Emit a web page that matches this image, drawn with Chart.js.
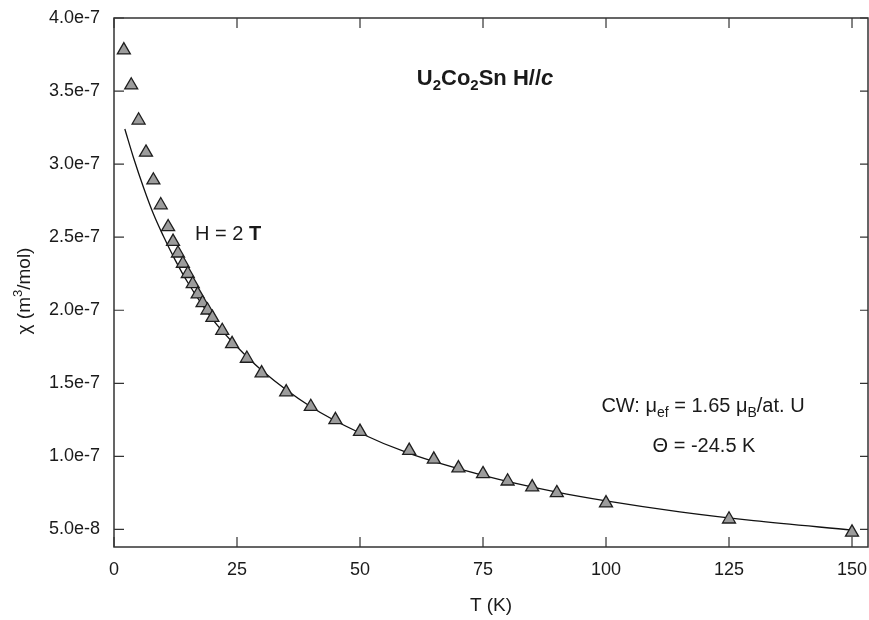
<!DOCTYPE html>
<html>
<head>
<meta charset="utf-8">
<script src="https://cdn.jsdelivr.net/npm/chart.js@4.4.1/dist/chart.umd.min.js"></script>
<style>
  html, body { margin: 0; padding: 0; background: #fff; overflow: hidden; }
  #wrap { width: 869px; height: 620px; }
</style>
</head>
<body>
<div id="wrap"><canvas id="chi-chart"></canvas></div>
<script>
// measured susceptibility, H = 2 T along c
const tempK = [2, 3.5, 5, 6.5, 8, 9.5, 11, 12, 13, 14, 15, 16, 17, 18, 19, 20, 22, 24, 27, 30, 35, 40, 45, 50, 60, 65, 70, 75, 80, 85, 90, 100, 125, 150];
const chi = [3.78e-7, 3.54e-7, 3.30e-7, 3.08e-7, 2.89e-7, 2.72e-7, 2.57e-7, 2.47e-7, 2.39e-7, 2.32e-7, 2.25e-7, 2.18e-7, 2.11e-7, 2.05e-7, 2.00e-7, 1.95e-7, 1.86e-7, 1.77e-7, 1.67e-7, 1.57e-7, 1.44e-7, 1.34e-7, 1.25e-7, 1.17e-7, 1.04e-7, 0.98e-7, 0.92e-7, 0.88e-7, 0.83e-7, 0.79e-7, 0.75e-7, 0.68e-7, 0.57e-7, 0.48e-7];

// Curie-Weiss fit curve
const fitT = [2.2, 4, 6, 8, 10, 12.5, 15, 20, 25, 30, 40, 50, 60, 75, 90, 100, 115, 130, 150];
const fitChi = [3.24e-7, 3.04e-7, 2.84e-7, 2.66e-7, 2.51e-7, 2.34e-7, 2.19e-7, 1.94e-7, 1.75e-7, 1.59e-7, 1.34e-7, 1.16e-7, 1.02e-7, 0.87e-7, 0.755e-7, 0.695e-7, 0.62e-7, 0.56e-7, 0.496e-7];

const xTicks = [0, 25, 50, 75, 100, 125, 150];
const yTicks = [5e-8, 1e-7, 1.5e-7, 2e-7, 2.5e-7, 3e-7, 3.5e-7, 4e-7];
const yTickLabels = ["5.0e-8", "1.0e-7", "1.5e-7", "2.0e-7", "2.5e-7", "3.0e-7", "3.5e-7", "4.0e-7"];

const FONT = '"Liberation Sans", Arial, sans-serif';
const INK = "#1a1a1a";

function drawRuns(ctx, runs, x, y, align) {
  let total = 0;
  runs.forEach((r) => {
    ctx.font = r[1];
    total += ctx.measureText(r[0]).width;
  });
  let cx = align === "center" ? x - total / 2 : x;
  runs.forEach((r) => {
    ctx.font = r[1];
    ctx.fillText(r[0], cx, y + (r[2] || 0));
    cx += ctx.measureText(r[0]).width;
  });
}

const frameAndText = {
  id: "frameAndText",
  afterDatasetsDraw(chart) {
    const ctx = chart.ctx;
    const { left, right, top, bottom } = chart.chartArea;
    const xs = chart.scales.x;
    const ys = chart.scales.y;
    ctx.save();
    ctx.strokeStyle = "#333";
    ctx.lineWidth = 1.5;
    ctx.strokeRect(left, top, right - left, bottom - top);

    // inward ticks on all four sides
    ctx.lineWidth = 1.2;
    ctx.beginPath();
    xTicks.forEach((v) => {
      const px = xs.getPixelForValue(v);
      ctx.moveTo(px, bottom);
      ctx.lineTo(px, bottom - 10);
      ctx.moveTo(px, top);
      ctx.lineTo(px, top + 10);
    });
    yTicks.forEach((v) => {
      const py = ys.getPixelForValue(v);
      ctx.moveTo(left, py);
      ctx.lineTo(left + 10, py);
      ctx.moveTo(right, py);
      ctx.lineTo(right - 8, py);
    });
    ctx.stroke();

    ctx.fillStyle = INK;
    ctx.textBaseline = "alphabetic";

    // y axis title
    ctx.save();
    ctx.translate(30, 291);
    ctx.rotate(-Math.PI / 2);
    drawRuns(ctx, [
      ["\u03c7 (m", "19px " + FONT],
      ["3", "13px " + FONT, -8],
      ["/mol)", "19px " + FONT],
    ], 0, 0, "center");
    ctx.restore();

    const b22 = "bold 22px " + FONT;
    const b15 = "bold 15px " + FONT;
    drawRuns(ctx, [
      ["U", b22], ["2", b15, 5], ["Co", b22], ["2", b15, 5],
      ["Sn H//", b22], ["c", "italic bold 22px " + FONT],
    ], 485, 85, "center");

    drawRuns(ctx, [
      ["H = 2 ", "20px " + FONT], ["T", "bold 20px " + FONT],
    ], 195, 240, "left");

    const r20 = "20px " + FONT;
    const r14 = "14px " + FONT;
    drawRuns(ctx, [
      ["CW: \u03bc", r20], ["ef", r14, 5], [" = 1.65 \u03bc", r20],
      ["B", r14, 5], ["/at. U", r20],
    ], 703, 412, "center");
    drawRuns(ctx, [["\u0398 = -24.5 K", r20]], 704, 452, "center");
    ctx.restore();
  },
};

const ctx1 = document.getElementById("chi-chart").getContext("2d");
new Chart(ctx1, {
  type: "scatter",
  data: {
    datasets: [
      {
        label: "chi",
        data: tempK.map((t, i) => ({ x: t, y: chi[i] })),
        pointStyle: "triangle",
        pointRadius: 7.5,
        pointBackgroundColor: "#9c9c9c",
        pointBorderColor: "#1e1e1e",
        pointBorderWidth: 1.3,
        showLine: false,
      },
      {
        label: "CW fit",
        data: fitT.map((t, i) => ({ x: t, y: fitChi[i] })),
        showLine: true,
        borderColor: "#111",
        borderWidth: 1.3,
        pointRadius: 0,
        cubicInterpolationMode: "monotone",
        fill: false,
      },
    ],
  },
  options: {
    responsive: true,
    maintainAspectRatio: false,
    animation: false,
    layout: {
      autoPadding: false,
      padding: { top: 18, right: 1, left: 0, bottom: 0 },
    },
    plugins: {
      legend: { display: false },
      tooltip: { enabled: false },
    },
    scales: {
      x: {
        type: "linear",
        min: 0,
        max: 153.25,
        afterBuildTicks: (s) => {
          s.ticks = xTicks.map((v) => ({ value: v }));
        },
        afterFit: (s) => {
          s.height = 73;
          s.paddingLeft = 0;
          s.paddingRight = 0;
        },
        grid: { display: false, drawTicks: false },
        border: { display: false },
        ticks: {
          color: INK,
          padding: 12,
          maxRotation: 0,
          autoSkip: false,
          font: { size: 18, family: FONT },
        },
        title: {
          display: true,
          text: "T (K)",
          color: INK,
          font: { size: 19, family: FONT },
          padding: { top: 0, bottom: 3 },
        },
      },
      y: {
        type: "linear",
        min: 3.8e-8,
        max: 4e-7,
        afterBuildTicks: (s) => {
          s.ticks = yTicks.map((v) => ({ value: v }));
        },
        afterFit: (s) => {
          s.width = 114;
          s.paddingTop = 0;
          s.paddingBottom = 0;
        },
        grid: { display: false, drawTicks: false },
        border: { display: false },
        ticks: {
          color: INK,
          padding: 14,
          autoSkip: false,
          font: { size: 18, family: FONT },
          callback: (v) => yTickLabels[yTicks.indexOf(v)],
        },
      },
    },
  },
  plugins: [frameAndText],
});
</script>
</body>
</html>
